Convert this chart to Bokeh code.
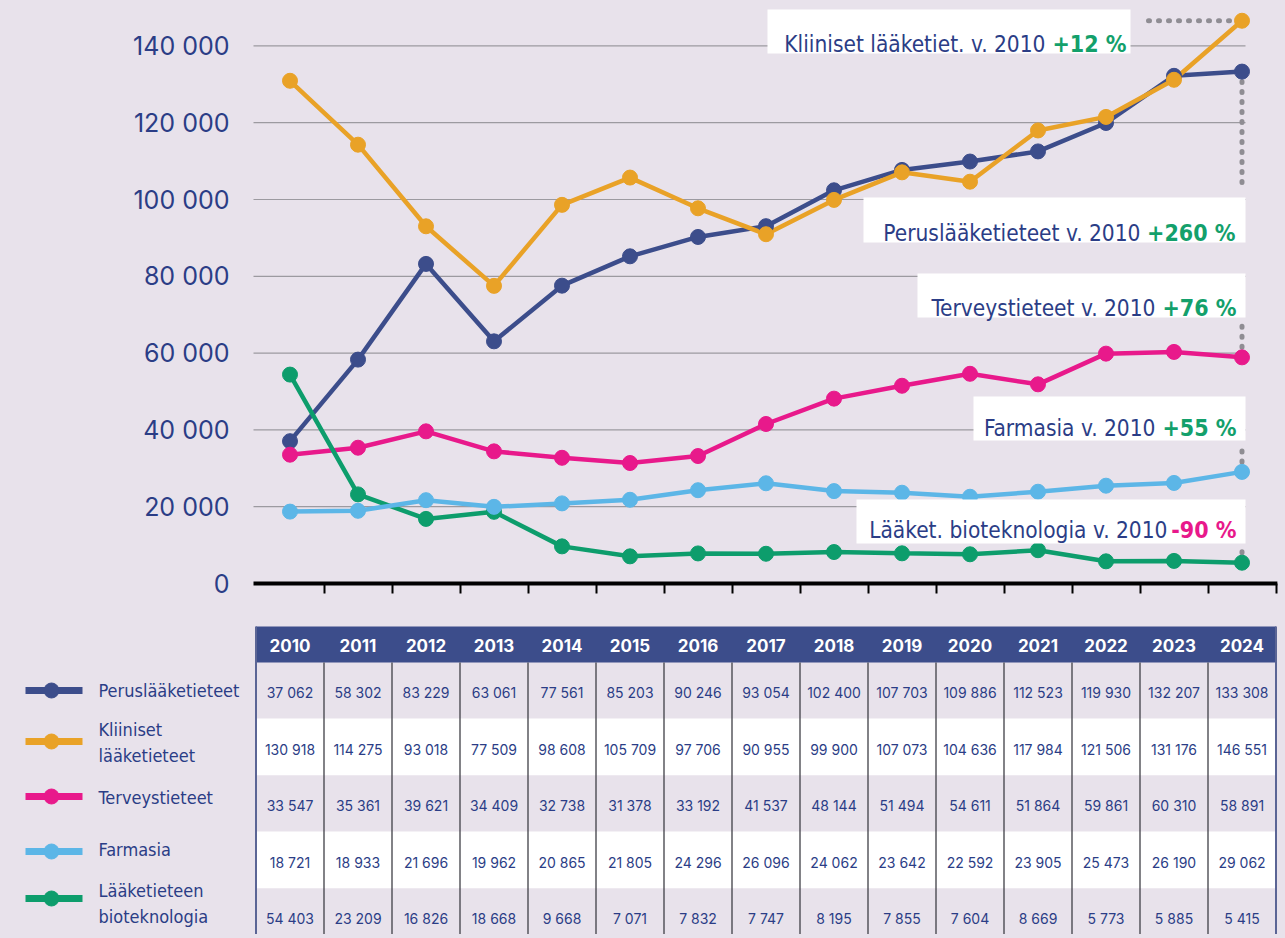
from bokeh.plotting import figure
from bokeh.models import Range1d, FixedTicker
from bokeh.core.properties import value
from bokeh.embed import file_html
from bokeh.resources import INLINE

# ---------------- data ----------------
years = list(range(2010, 2025))
perus = [37062, 58302, 83229, 63061, 77561, 85203, 90246, 93054, 102400, 107703, 109886, 112523, 119930, 132207, 133308]
kliiniset = [130918, 114275, 93018, 77509, 98608, 105709, 97706, 90955, 99900, 107073, 104636, 117984, 121506, 131176, 146551]
terveys = [33547, 35361, 39621, 34409, 32738, 31378, 33192, 41537, 48144, 51494, 54611, 51864, 59861, 60310, 58891]
farmasia = [18721, 18933, 21696, 19962, 20865, 21805, 24296, 26096, 24062, 23642, 22592, 23905, 25473, 26190, 29062]
biotek = [54403, 23209, 16826, 18668, 9668, 7071, 7832, 7747, 8195, 7855, 7604, 8669, 5773, 5885, 5415]

series = [perus, kliiniset, terveys, farmasia, biotek]
legend_labels = [["Peruslääketieteet"], ["Kliiniset", "lääketieteet"], ["Terveystieteet"],
                 ["Farmasia"], ["Lääketieteen", "bioteknologia"]]
y_ticks = [0, 20000, 40000, 60000, 80000, 100000, 120000, 140000]
y_tick_labels = ["0", "20 000", "40 000", "60 000", "80 000", "100 000", "120 000", "140 000"]

ann_main = ["Kliiniset lääketiet. v. 2010", "Peruslääketieteet v. 2010", "Terveystieteet v. 2010",
            "Farmasia v. 2010", "Lääket. bioteknologia v. 2010"]
ann_pct = ["+12 %", "+260 %", "+76 %", "+55 %", "-90 %"]

# ---------------- style ----------------
BG = "#e8e2eb"
NAVY = "#3c4d8b"
ORANGE = "#e9a227"
MAGENTA = "#e8198b"
LBLUE = "#5cb6e7"
GREEN = "#0d9d6c"
TEXT = "#2b3d86"
PCT_GREEN = "#13a06b"
GRID = "#9c9aa0"
DOT = "#8f8d93"
colors = [NAVY, ORANGE, MAGENTA, LBLUE, GREEN]
pct_colors = [PCT_GREEN, PCT_GREEN, PCT_GREEN, PCT_GREEN, MAGENTA]
COND_NAME = "Noto Sans Condensed, DejaVu Sans Condensed, Roboto, sans-serif"
COND = value(COND_NAME)
NUMF = value("Inter")

W, H = 1280, 934
# pixel helpers (layout only)
X0_PX, XS = 289.5, 68.0
Y0_PX, YS = 583.0, 0.00384
def xd(px):
    return 2010 + (px - X0_PX) / XS
def yd(py):
    return (Y0_PX - py) / YS

p = figure(width=W, height=H, x_range=Range1d(xd(0), xd(W)), y_range=Range1d(yd(H), yd(0)),
           output_backend="svg", toolbar_location=None,
           min_border_left=0, min_border_right=0, min_border_top=0, min_border_bottom=0)
p.background_fill_color = BG
p.border_fill_color = BG
p.outline_line_color = None
p.xgrid.visible = False
p.ygrid.visible = False

# ---------------- line chart ----------------
gt = y_ticks[1:]
p.segment(x0=[xd(253)] * len(gt), x1=[xd(1245)] * len(gt), y0=gt, y1=gt, line_color=GRID, line_width=1.2)

p.yaxis.fixed_location = xd(253)
p.yaxis.ticker = FixedTicker(ticks=y_ticks)
p.yaxis.major_label_overrides = {t: l for t, l in zip(y_ticks, y_tick_labels)}
p.yaxis.axis_line_color = None
p.yaxis.major_tick_line_color = None
p.yaxis.minor_tick_line_color = None
p.yaxis.major_label_text_font = "Inter"
p.yaxis.major_label_text_font_size = "25px"
p.yaxis.major_label_text_color = TEXT
p.yaxis.major_label_standoff = 18

bounds = [y + 0.5 for y in years]
p.xaxis.fixed_location = 0
p.xaxis.ticker = FixedTicker(ticks=bounds)
p.xaxis.major_label_overrides = {b: "" for b in bounds}
p.xaxis.axis_line_color = None
p.xaxis.major_tick_line_color = "black"
p.xaxis.major_tick_line_width = 2
p.xaxis.major_tick_out = 10
p.xaxis.major_tick_in = 0
p.xaxis.minor_tick_line_color = None
p.segment(x0=[xd(253)], x1=[bounds[-1] + 0.02], y0=[0], y1=[0], line_color="black", line_width=4)

# dotted connectors from last points to annotation boxes
p.segment(x0=[xd(1148)], x1=[years[-1]], y0=[kliiniset[-1]], y1=[kliiniset[-1]],
          line_color=DOT, line_width=5, line_dash="1 9", line_cap="round")
conn_ends = [yd(190), yd(322), yd(446), yd(549)]
p.segment(x0=[years[-1]] * 4, x1=[years[-1]] * 4, y0=[perus[-1], terveys[-1], farmasia[-1], biotek[-1]],
          y1=conn_ends, line_color=DOT, line_width=5, line_dash="1 9", line_cap="round")

draw_order = [0, 1, 2, 4, 3]
for i in draw_order:
    p.line(years, series[i], line_color=colors[i], line_width=4.5)
for i in draw_order:
    p.scatter(years, series[i], size=15, fill_color=colors[i], line_color=colors[i])

# annotation boxes
boxes = [(767, 1130, 9, 53), (863, 1245, 197, 242), (917, 1245, 273, 317), (973, 1245, 396, 440), (856, 1245, 499, 543)]
main_end = [1045, 1140, 1155, 1155, 1167]
base_y = [43, 232, 307, 427, 529]
pct_end = [1126, 1235, 1236, 1236, 1236]
p.quad(left=[xd(b[0]) for b in boxes], right=[xd(b[1]) for b in boxes],
       top=[yd(b[2]) for b in boxes], bottom=[yd(b[3]) for b in boxes],
       fill_color="white", line_color=None)
p.text(x=[xd(v) for v in main_end], y=[yd(v) for v in base_y], text=ann_main,
       text_font=COND, text_font_size="22.5px", text_color=TEXT,
       text_align="right", text_baseline="alphabetic")
for i in range(5):
    p.text(x=[xd(pct_end[i])], y=[yd(base_y[i])], text=[ann_pct[i]],
           text_font=COND, text_font_size="23px", text_font_style="bold", text_color=pct_colors[i],
           text_align="right", text_baseline="alphabetic")

# ---------------- table ----------------
row_top = [662, 718, 775, 831, 888]
row_bot = [718, 775, 831, 888, 945]
row_fill = [BG, "white", BG, "white", BG]
left_edge, right_edge = years[0] - 0.5, years[-1] + 0.5
p.quad(left=[left_edge] * 5, right=[right_edge] * 5, top=[yd(v) for v in row_top],
       bottom=[yd(v) for v in row_bot], fill_color=row_fill, line_color=None)
p.quad(left=[left_edge], right=[right_edge], top=[yd(626)], bottom=[yd(662)], fill_color=NAVY, line_color=None)
p.text(x=years, y=[yd(645)] * len(years), text=[str(y) for y in years], text_font=NUMF,
       text_font_size="17px", text_font_style="bold", text_color="white",
       text_align="center", text_baseline="middle")
divs = bounds[:-1]
p.segment(x0=divs, x1=divs, y0=[yd(662)] * len(divs), y1=[yd(945)] * len(divs),
          line_color="#3f3f46", line_width=1.3)
p.segment(x0=[left_edge, right_edge], x1=[left_edge, right_edge], y0=[yd(626)] * 2, y1=[yd(945)] * 2,
          line_color="#5b6595", line_width=2)

num_y = [692, 749, 805, 862, 918]
for i, s in enumerate(series):
    p.text(x=years, y=[yd(num_y[i])] * len(years), text=[f"{v:,}".replace(",", " ") for v in s],
           text_font=NUMF, text_font_size="14px", text_color=TEXT,
           text_align="center", text_baseline="middle")

# legend
leg_y = [690, 741, 796, 851, 898]
p.segment(x0=[xd(25)] * 5, x1=[xd(82)] * 5, y0=[yd(v) for v in leg_y], y1=[yd(v) for v in leg_y],
          line_color=colors, line_width=7)
p.scatter(x=[xd(51)] * 5, y=[yd(v) for v in leg_y], size=15, fill_color=colors, line_color=colors)
lab_y = [[690], [729, 755], [797], [849], [890, 916]]
lx, ly, lt = [], [], []
for labs, ys in zip(legend_labels, lab_y):
    for l, yy in zip(labs, ys):
        lx.append(xd(98)); ly.append(yd(yy)); lt.append(l)
p.text(x=lx, y=ly, text=lt, text_font=COND, text_font_size="18px", text_color=TEXT,
       text_align="left", text_baseline="middle")

html = file_html(p, INLINE)
html = html.replace("<body>", f"<body style=\"background-color:{BG};\">")
open("out.html", "w").write(html)
